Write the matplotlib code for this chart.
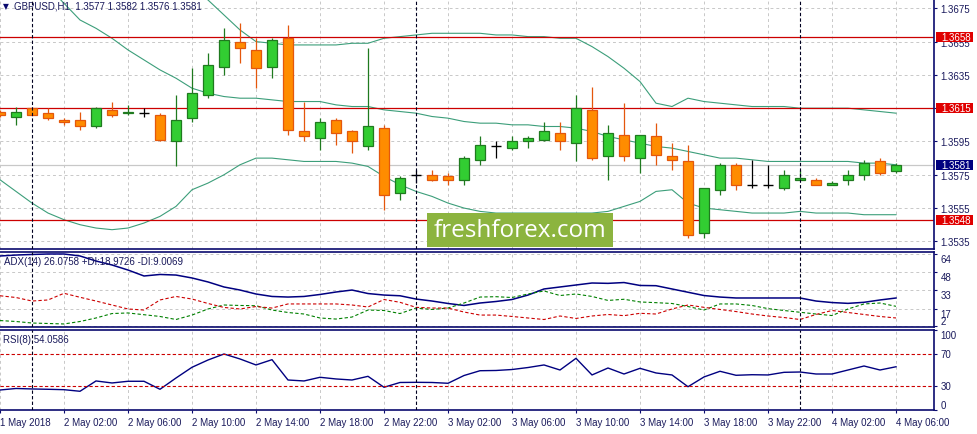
import matplotlib
matplotlib.use('Agg')
import matplotlib.pyplot as plt
import matplotlib.transforms as mtransforms
from matplotlib.patches import Rectangle
import numpy as np

plt.rcParams['font.family'] = ['Liberation Sans', 'DejaVu Sans']

######## GBPUSD H1 bars, 1 May 22:00 .. 4 May 06:00
opens = [1.3613, 1.3610, 1.3615, 1.3612, 1.3608, 1.3608, 1.3604, 1.3614, 1.3612, 1.3612,
         1.3611, 1.3595, 1.3609, 1.3623, 1.3640, 1.3655, 1.3650, 1.3640, 1.3657, 1.3601,
         1.3597, 1.3608, 1.3601, 1.3592, 1.3603, 1.3564, 1.3575, 1.3575, 1.3574, 1.3572,
         1.3584, 1.3592, 1.3591, 1.3595, 1.3596, 1.3600, 1.3594, 1.3614, 1.3586, 1.3599,
         1.3585, 1.3598, 1.3586, 1.3583, 1.3540, 1.3566, 1.3581, 1.3569, 1.3569, 1.3567,
         1.3572, 1.3572, 1.3569, 1.3572, 1.3575, 1.3583, 1.3577]
highs = [1.3614, 1.3616, 1.3616, 1.3615, 1.3609, 1.3613, 1.3616, 1.3619, 1.3617, 1.3615,
         1.3612, 1.3623, 1.3639, 1.3648, 1.3663, 1.3666, 1.3657, 1.3657, 1.3665, 1.3619,
         1.3609, 1.3609, 1.3602, 1.3651, 1.3605, 1.3574, 1.3578, 1.3578, 1.3576, 1.3586,
         1.3598, 1.3595, 1.3598, 1.3598, 1.3607, 1.3607, 1.3623, 1.3628, 1.3605, 1.3618,
         1.3599, 1.3606, 1.3594, 1.3593, 1.3567, 1.3582, 1.3582, 1.3584, 1.3581, 1.3578,
         1.3578, 1.3573, 1.3571, 1.3578, 1.3584, 1.3585, 1.3582]
lows = [1.3610, 1.3605, 1.3611, 1.3608, 1.3605, 1.3602, 1.3603, 1.3610, 1.3611, 1.3610,
        1.3595, 1.3580, 1.3607, 1.3621, 1.3635, 1.3642, 1.3627, 1.3633, 1.3599, 1.3595,
        1.3590, 1.3593, 1.3588, 1.3590, 1.3554, 1.3560, 1.3570, 1.3571, 1.3569, 1.3569,
        1.3581, 1.3585, 1.3590, 1.3591, 1.3595, 1.3590, 1.3583, 1.3584, 1.3572, 1.3583,
        1.3576, 1.3581, 1.3578, 1.3537, 1.3537, 1.3563, 1.3566, 1.3567, 1.3567, 1.3566,
        1.3572, 1.3569, 1.3569, 1.3569, 1.3572, 1.3575, 1.3576]
closes = [1.3611, 1.3613, 1.3611, 1.3609, 1.3607, 1.3604, 1.3615, 1.3611, 1.3613, 1.3612,
          1.3596, 1.3608, 1.3624, 1.3641, 1.3656, 1.3651, 1.3639, 1.3656, 1.3602, 1.3598,
          1.3607, 1.3600, 1.3595, 1.3604, 1.3563, 1.3573, 1.3575, 1.3572, 1.3572, 1.3585,
          1.3593, 1.3592, 1.3595, 1.3597, 1.3601, 1.3595, 1.3615, 1.3585, 1.3600, 1.3586,
          1.3599, 1.3587, 1.3584, 1.3539, 1.3567, 1.3581, 1.3569, 1.3569, 1.3569, 1.3575,
          1.3573, 1.3569, 1.3570, 1.3575, 1.3582, 1.3576, 1.3581]

nan = np.nan
##### Bollinger bands (upper band is above the window on the left)
bb_upper = [nan]*11 + [1.3709, 1.3688, 1.3680, 1.3671, 1.3662, 1.3655, 1.3654, 1.3653, 1.3653,
           1.3653, 1.3653, 1.3654, 1.3654, 1.3657, 1.3658, 1.3659, 1.3660, 1.3660, 1.3660,
           1.3660, 1.3659, 1.3659, 1.3658, 1.3658, 1.3657, 1.3657, 1.3652, 1.3646, 1.3639,
           1.3631, 1.3618, 1.3616, 1.3621, 1.3619, 1.3618, 1.3617, 1.3616, 1.3616, 1.3616,
           1.3615, 1.3615, 1.3615, 1.3615, 1.3614, 1.3613, 1.3612]
bb_middle = [nan]*3 + [1.3688, 1.3678, 1.3668, 1.3663, 1.3657, 1.3650, 1.3644, 1.3638, 1.3633,
            1.3627, 1.3624, 1.3622, 1.3621, 1.3621, 1.3620, 1.3619, 1.3619, 1.3619, 1.3617,
            1.3616, 1.3616, 1.3614, 1.3613, 1.3612, 1.3610, 1.3609, 1.3607, 1.3606, 1.3606,
            1.3605, 1.3605, 1.3604, 1.3604, 1.3603, 1.3601, 1.3598, 1.3596, 1.3594, 1.3592,
            1.3591, 1.3589, 1.3587, 1.3585, 1.3585, 1.3584, 1.3583, 1.3583, 1.3583, 1.3583,
            1.3583, 1.3583, 1.3582, 1.3582, 1.3581]
bb_lower = [1.3572, 1.3565, 1.3558, 1.3552, 1.3548, 1.3545, 1.3543, 1.3542, 1.3543, 1.3546,
            1.3550, 1.3556, 1.3566, 1.3570, 1.3575, 1.3581, 1.3585, 1.3585, 1.3584, 1.3583,
            1.3583, 1.3583, 1.3582, 1.3580, 1.3574, 1.3569, 1.3565, 1.3562, 1.3558, 1.3555,
            1.3553, 1.3552, 1.3552, 1.3552, 1.3552, 1.3552, 1.3552, 1.3552, 1.3553, 1.3556,
            1.3559, 1.3565, 1.3566, 1.3558, 1.3555, 1.3554, 1.3553, 1.3552, 1.3552, 1.3552,
            1.3553, 1.3552, 1.3552, 1.3552, 1.3551, 1.3551, 1.3551]

##### ADX(14), +DI, -DI
adx = [62.0, 62.8, 63.3, 63.7, 63.7, 62.0, 57.7, 54.3, 50.0, 44.9,
       46.2, 45.7, 43.2, 39.8, 35.5, 32.9, 29.5, 27.4, 26.9, 27.4,
       29.1, 31.2, 32.9, 29.9, 28.6, 28.0, 25.2, 23.5, 21.4, 19.7,
       21.8, 23.1, 24.8, 28.6, 33.8, 35.5, 37.2, 38.9, 38.6, 39.3,
       36.8, 36.6, 33.8, 31.0, 28.2, 26.9, 26.1, 26.1, 26.1, 26.1,
       26.1, 23.5, 22.2, 21.5, 22.4, 24.4, 26.08]
plus_di = [6.8, 6.0, 4.7, 4.3, 3.9, 6.0, 9.0, 12.8, 13.3, 11.8,
           10.3, 7.7, 11.5, 16.7, 20.1, 19.7, 19.5, 15.8, 13.7, 12.4,
           9.0, 8.1, 9.8, 15.8, 15.4, 12.8, 17.5, 16.3, 17.5, 21.8,
           26.9, 27.2, 26.5, 29.5, 32.1, 28.2, 29.5, 27.4, 24.0, 25.0,
           22.7, 22.1, 21.4, 18.8, 15.8, 21.0, 21.0, 19.7, 17.0, 15.4,
           13.9, 12.4, 11.1, 16.7, 21.0, 21.8, 18.97]
minus_di = [28.0, 26.5, 23.5, 24.4, 30.1, 26.7, 23.5, 20.1, 16.7, 15.8,
            24.4, 27.4, 25.2, 21.4, 18.0, 16.7, 18.8, 17.5, 21.0, 21.0,
            21.0, 21.0, 20.1, 18.4, 24.8, 22.4, 18.1, 17.5, 17.5, 14.1,
            11.5, 11.5, 10.3, 9.0, 7.7, 10.7, 8.6, 10.7, 12.0, 11.0,
            13.0, 12.4, 16.7, 20.1, 18.1, 16.3, 14.5, 12.4, 10.7, 9.4,
            7.7, 12.0, 15.4, 13.7, 12.0, 10.3, 9.01]

##### RSI(8)
rsi = [25.0, 26.9, 26.3, 25.9, 25.4, 23.4, 36.3, 33.8, 35.9, 35.9,
       25.9, 40.0, 53.4, 62.5, 70.0, 63.8, 56.3, 62.9, 37.5, 36.3,
       40.9, 38.8, 37.5, 42.1, 28.4, 34.4, 34.6, 34.4, 33.4, 43.1,
       49.1, 49.4, 50.6, 53.1, 56.3, 50.0, 64.6, 43.8, 52.5, 45.0,
       52.1, 46.3, 43.8, 29.1, 41.3, 48.4, 43.4, 44.1, 43.8, 47.1,
       47.5, 45.0, 45.0, 50.0, 55.0, 50.0, 54.06]

levels = [1.3658, 1.3615, 1.3548]
price_ticks = [1.3535, 1.3555, 1.3575, 1.3595, 1.3615, 1.3635, 1.3655, 1.3675]
time_labels = ['1 May 2018', '2 May 02:00', '2 May 06:00', '2 May 10:00', '2 May 14:00',
               '2 May 18:00', '2 May 22:00', '3 May 02:00', '3 May 06:00', '3 May 10:00',
               '3 May 14:00', '3 May 18:00', '3 May 22:00', '4 May 02:00', '4 May 06:00']
day_starts = [2, 26, 50]   # 2 May 00:00, 3 May 00:00, 4 May 00:00

navy = '#0a0a6e'
txt = '#1a1a5c'
grid_kw = dict(color='#c8c8c8', linestyle=(0, (3, 3)), linewidth=0.7)

fig = plt.figure(figsize=(9.77, 4.35), dpi=100)
ax = fig.add_axes([0, 0.42529, 0.95599, 0.57471])
ax_adx = fig.add_axes([0, 0.24598, 0.95599, 0.17241], sharex=ax)
ax_rsi = fig.add_axes([0, 0.05517, 0.95599, 0.18391], sharex=ax)

x = np.arange(len(opens))

######## candles
for i in x:
    o, h, l, c = opens[i], highs[i], lows[i], closes[i]
    if c > o:
        fill, edge, wick = '#32cd32', '#1f7a1f', '#1f7a1f'
    elif c < o:
        fill, edge, wick = '#ff8c00', '#e4570c', '#e4570c'
    else:
        fill, edge, wick = None, 'black', 'black'
    ax.vlines(i, l, h, color=wick, linewidth=0.9, zorder=3)
    if fill is None:
        ax.hlines(o, i - 0.34, i + 0.34, color='black', linewidth=1.0, zorder=4)
    else:
        ax.bar(i, abs(c - o), bottom=min(o, c), width=0.58, color=fill,
               edgecolor=edge, linewidth=0.9, zorder=4)

ax.plot(x, bb_upper, color='#3c9e7a', linewidth=0.8, zorder=2)
ax.plot(x, bb_middle, color='#3c9e7a', linewidth=0.8, zorder=2)
ax.plot(x, bb_lower, color='#3c9e7a', linewidth=0.8, zorder=2)

for lv in levels:
    ax.axhline(lv, color='#cc0000', linewidth=0.9, zorder=2.5)
ax.axhline(closes[-1], color='#c8c8c8', linewidth=0.9, zorder=1.5)

ax.set_xlim(0, 58.375)
ax.set_ylim(1.35304, 1.36806)
ax.set_yticks(price_ticks)
ax.yaxis.set_major_formatter(matplotlib.ticker.FormatStrFormatter('%.4f'))
ax.yaxis.tick_right()
ax.grid(True, **grid_kw)
ax.set_axisbelow(True)

trans = mtransforms.blended_transform_factory(ax.transAxes, ax.transData)
def price_tag(value, color):
    ax.add_patch(Rectangle((1.002, value - 0.0003), 0.040, 0.0006, transform=trans,
                           facecolor=color, edgecolor='none', clip_on=False, zorder=6))
    ax.text(1.0075, value, '%.4f' % value, transform=trans, color='white', fontsize=7,
            va='center', ha='left', clip_on=False, zorder=7)

for lv in levels:
    price_tag(lv, '#e00000')
price_tag(closes[-1], '#000080')

ax.text(0.003, 0.972, '\u25bc', transform=ax.transAxes, fontsize=5.5, color=navy,
        family='DejaVu Sans', va='center', ha='left')
ax.text(0.015, 0.972, 'GBPUSD,H1  %.4f %.4f %.4f %.4f' % (opens[-1], highs[-1], lows[-1], closes[-1]),
        transform=ax.transAxes, fontsize=7, color=txt, va='center', ha='left')

##### watermark
ax.add_patch(Rectangle((0.4572, 0.008), 0.1991, 0.136, transform=ax.transAxes,
                       facecolor='#8cb43f', edgecolor='none', zorder=8))
ax.text(0.5567, 0.074, 'freshforex.com', transform=ax.transAxes, color='white',
        fontsize=17.5, family='Open Sans', ha='center', va='center', zorder=9)

######## ADX panel
ax_adx.plot(x, adx, color='#000080', linewidth=1.1)
ax_adx.plot(x, plus_di, color='#008000', linewidth=0.8, linestyle=(0, (3, 2)))
ax_adx.plot(x, minus_di, color='#cc0000', linewidth=0.8, linestyle=(0, (3, 2)))
ax_adx.set_ylim(1.3, 65.4)
ax_adx.set_yticks([64, 48, 33, 17, 2])
ax_adx.yaxis.tick_right()
ax_adx.grid(True, **grid_kw)
ax_adx.set_axisbelow(True)
ax_adx.text(0.004, 0.885, 'ADX(14) %.4f +DI:%.4f -DI:%.4f' % (26.0758, 18.9726, 9.0069),
            transform=ax_adx.transAxes, fontsize=7, color=txt, va='center', ha='left')

######## RSI panel
ax_rsi.plot(x, rsi, color='#000080', linewidth=1.0)
for lv in [70, 30]:
    ax_rsi.axhline(lv, color='#cc0000', linewidth=0.8, linestyle=(0, (3, 2)))
ax_rsi.set_ylim(0, 100)
ax_rsi.set_yticks([100, 70, 30, 0])
ax_rsi.yaxis.tick_right()
ax_rsi.grid(True, axis='x', **grid_kw)
ax_rsi.set_axisbelow(True)
ax_rsi.text(0.003, 0.887, 'RSI(8) %.4f' % 54.0586, transform=ax_rsi.transAxes,
            fontsize=7, color=txt, va='center', ha='left')

ax_rsi.set_xticks(np.arange(0, len(x), 4))
ax_rsi.set_xticklabels(time_labels, ha='left')

for a in (ax, ax_adx, ax_rsi):
    for d in day_starts:
        a.axvline(d, color='#000020', linewidth=0.8, linestyle=(0, (3, 2)), zorder=5)
    a.spines['left'].set_visible(False)
    for s in ('right', 'bottom', 'top'):
        a.spines[s].set_color(navy)
        a.spines[s].set_linewidth(1.2)
    a.tick_params(axis='y', which='both', right=True, left=False, length=2.2, width=0.8,
                  color=navy, labelsize=7, labelcolor=txt, pad=2.5)
    a.tick_params(axis='x', bottom=False, labelbottom=False)
ax.spines['top'].set_visible(False)
ax_rsi.tick_params(axis='x', bottom=True, labelbottom=True, length=2.2, width=0.8,
                   color=navy, labelsize=7, labelcolor=txt, pad=3)

##### sub window labels: first/last pushed inside, adx labels sit under their level
for lbl, va in zip(ax_adx.get_yticklabels(), ['top', 'top', 'top', 'top', 'bottom']):
    lbl.set_va(va)
for lbl, va in zip(ax_rsi.get_yticklabels(), ['top', 'center', 'center', 'bottom']):
    lbl.set_va(va)

fig.savefig('out.png', dpi=100, facecolor='white')
